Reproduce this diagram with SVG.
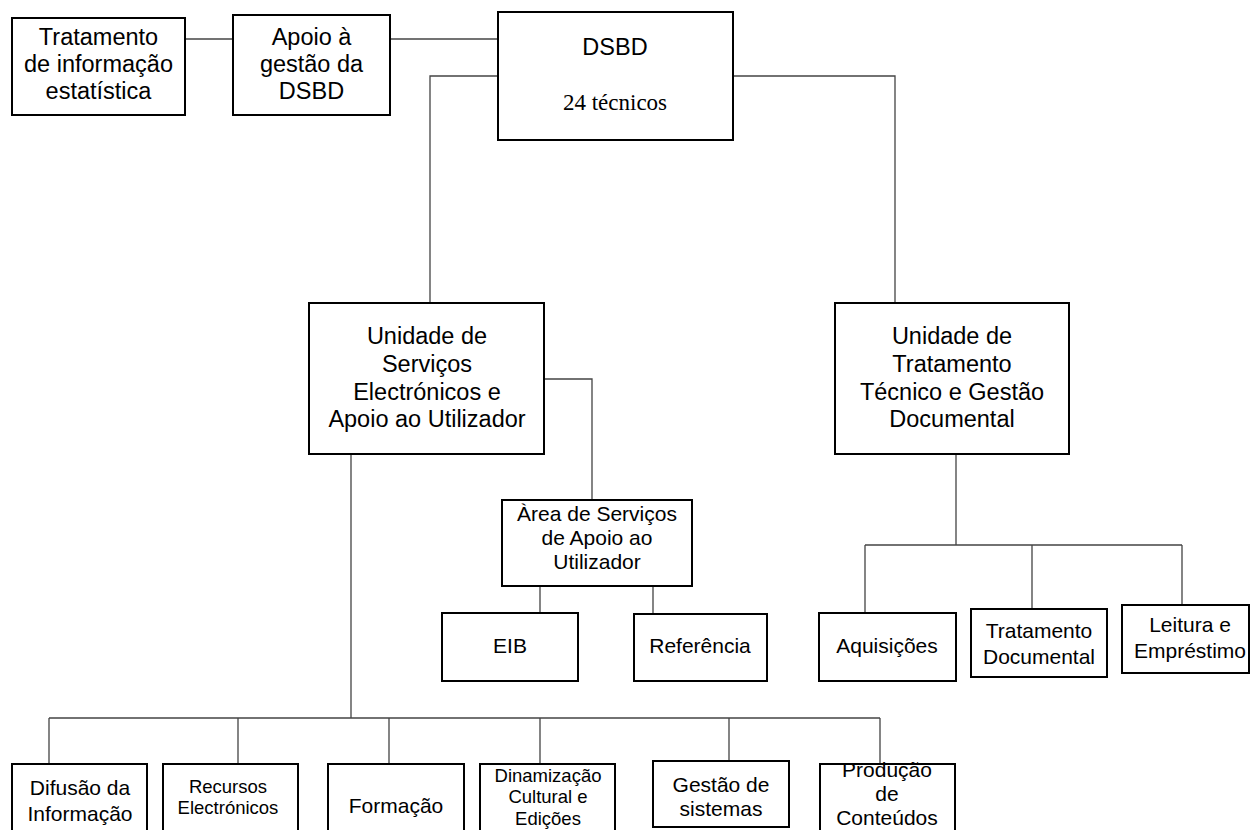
<svg xmlns="http://www.w3.org/2000/svg" width="1250" height="830" viewBox="0 0 1250 830">
<style>
.box{fill:#fff;stroke:#000;stroke-width:2}
.t{font-family:"Liberation Sans",Arial,sans-serif;text-anchor:middle;fill:#000}
.big{font-size:23.5px}
.mid{font-size:21px}
.sm{font-size:18.5px}
.serif{font-family:"Liberation Serif","Times New Roman",serif;font-size:23px;text-anchor:middle;fill:#000}
.c{fill:none;stroke:#444;stroke-width:1.3}
</style>
<rect width="1250" height="830" fill="#fff"/>
<g id="connectors">
<path class="c" d="M185 39H233"/>
<path class="c" d="M390 39H498"/>
<path class="c" d="M498 76H430V303"/>
<path class="c" d="M733 76H895V303"/>
<path class="c" d="M544 379H592V500"/>
<path class="c" d="M540 586V613M653 586V614"/>
<path class="c" d="M956 454V545M865 545H1182M865 545V613M1032 545V609M1182 545V605"/>
<path class="c" d="M351 454V718M49 718H880M49 718V764M238 718V764M389 718V764M540 718V764M729 718V761M880 718V764"/>
</g>
<g id="n-tratamento-info"><rect class="box" x="12" y="18" width="173" height="97"/>
<text class="t big" x="98.5" y="45">Tratamento</text><text class="t big" x="98.5" y="72">de informação</text><text class="t big" x="98.5" y="99">estatística</text></g>
<g id="n-apoio-gestao"><rect class="box" x="233" y="15" width="157" height="100"/>
<text class="t big" x="311.5" y="45">Apoio à</text><text class="t big" x="311.5" y="72">gestão da</text><text class="t big" x="311.5" y="99">DSBD</text></g>
<g id="n-dsbd"><rect class="box" x="498" y="12" width="235" height="128"/>
<text class="t big" x="615" y="55">DSBD</text><text class="serif" x="615" y="110">24 técnicos</text></g>
<g id="n-unidade-servicos"><rect class="box" x="309" y="303" width="235" height="151"/>
<text class="t big" x="427" y="344">Unidade de</text><text class="t big" x="427" y="372">Serviços</text><text class="t big" x="427" y="400">Electrónicos e</text><text class="t big" x="427" y="427">Apoio ao Utilizador</text></g>
<g id="n-unidade-tratamento"><rect class="box" x="835" y="303" width="234" height="151"/>
<text class="t big" x="952" y="344">Unidade de</text><text class="t big" x="952" y="372">Tratamento</text><text class="t big" x="952" y="400">Técnico e Gestão</text><text class="t big" x="952" y="427">Documental</text></g>
<g id="n-area-servicos"><rect class="box" x="502" y="500" width="190" height="86"/>
<text class="t mid" x="597" y="521">Àrea de Serviços</text><text class="t mid" x="597" y="545">de Apoio ao</text><text class="t mid" x="597" y="569">Utilizador</text></g>
<g id="n-eib"><rect class="box" x="442" y="613" width="136" height="68"/>
<text class="t mid" x="510" y="653">EIB</text></g>
<g id="n-referencia"><rect class="box" x="634" y="614" width="133" height="67"/>
<text class="t mid" x="700" y="653">Referência</text></g>
<g id="n-aquisicoes"><rect class="box" x="819" y="613" width="137" height="68"/>
<text class="t mid" x="887" y="653">Aquisições</text></g>
<g id="n-tratamento-doc"><rect class="box" x="971" y="609" width="136" height="68"/>
<text class="t mid" x="1039" y="638">Tratamento</text><text class="t mid" x="1039" y="664">Documental</text></g>
<g id="n-leitura"><rect class="box" x="1122" y="605" width="127" height="68"/>
<text class="t mid" x="1190" y="632">Leitura e</text><text class="t mid" x="1190" y="658">Empréstimo</text></g>
<g id="n-difusao"><rect class="box" x="12" y="764" width="135" height="80"/>
<text class="t mid" x="80" y="795">Difusão da</text><text class="t mid" x="80" y="821">Informação</text></g>
<g id="n-recursos"><rect class="box" x="163" y="764" width="135" height="80"/>
<text class="t sm" x="228" y="793">Recursos</text><text class="t sm" x="228" y="814">Electrónicos</text></g>
<g id="n-formacao"><rect class="box" x="328" y="764" width="136" height="80"/>
<text class="t mid" x="396" y="813">Formação</text></g>
<g id="n-dinamizacao"><rect class="box" x="480" y="764" width="135" height="80"/>
<text class="t sm" x="548" y="782">Dinamização</text><text class="t sm" x="548" y="803">Cultural e</text><text class="t sm" x="548" y="825">Edições</text></g>
<g id="n-gestao-sistemas"><rect class="box" x="653" y="761" width="136" height="66"/>
<text class="t mid" x="721" y="792">Gestão de</text><text class="t mid" x="721" y="816">sistemas</text></g>
<g id="n-producao"><rect class="box" x="820" y="764" width="135" height="80"/>
<text class="t mid" x="887" y="777">Produção</text><text class="t mid" x="887" y="801">de</text><text class="t mid" x="887" y="825">Conteúdos</text></g>
</svg>
